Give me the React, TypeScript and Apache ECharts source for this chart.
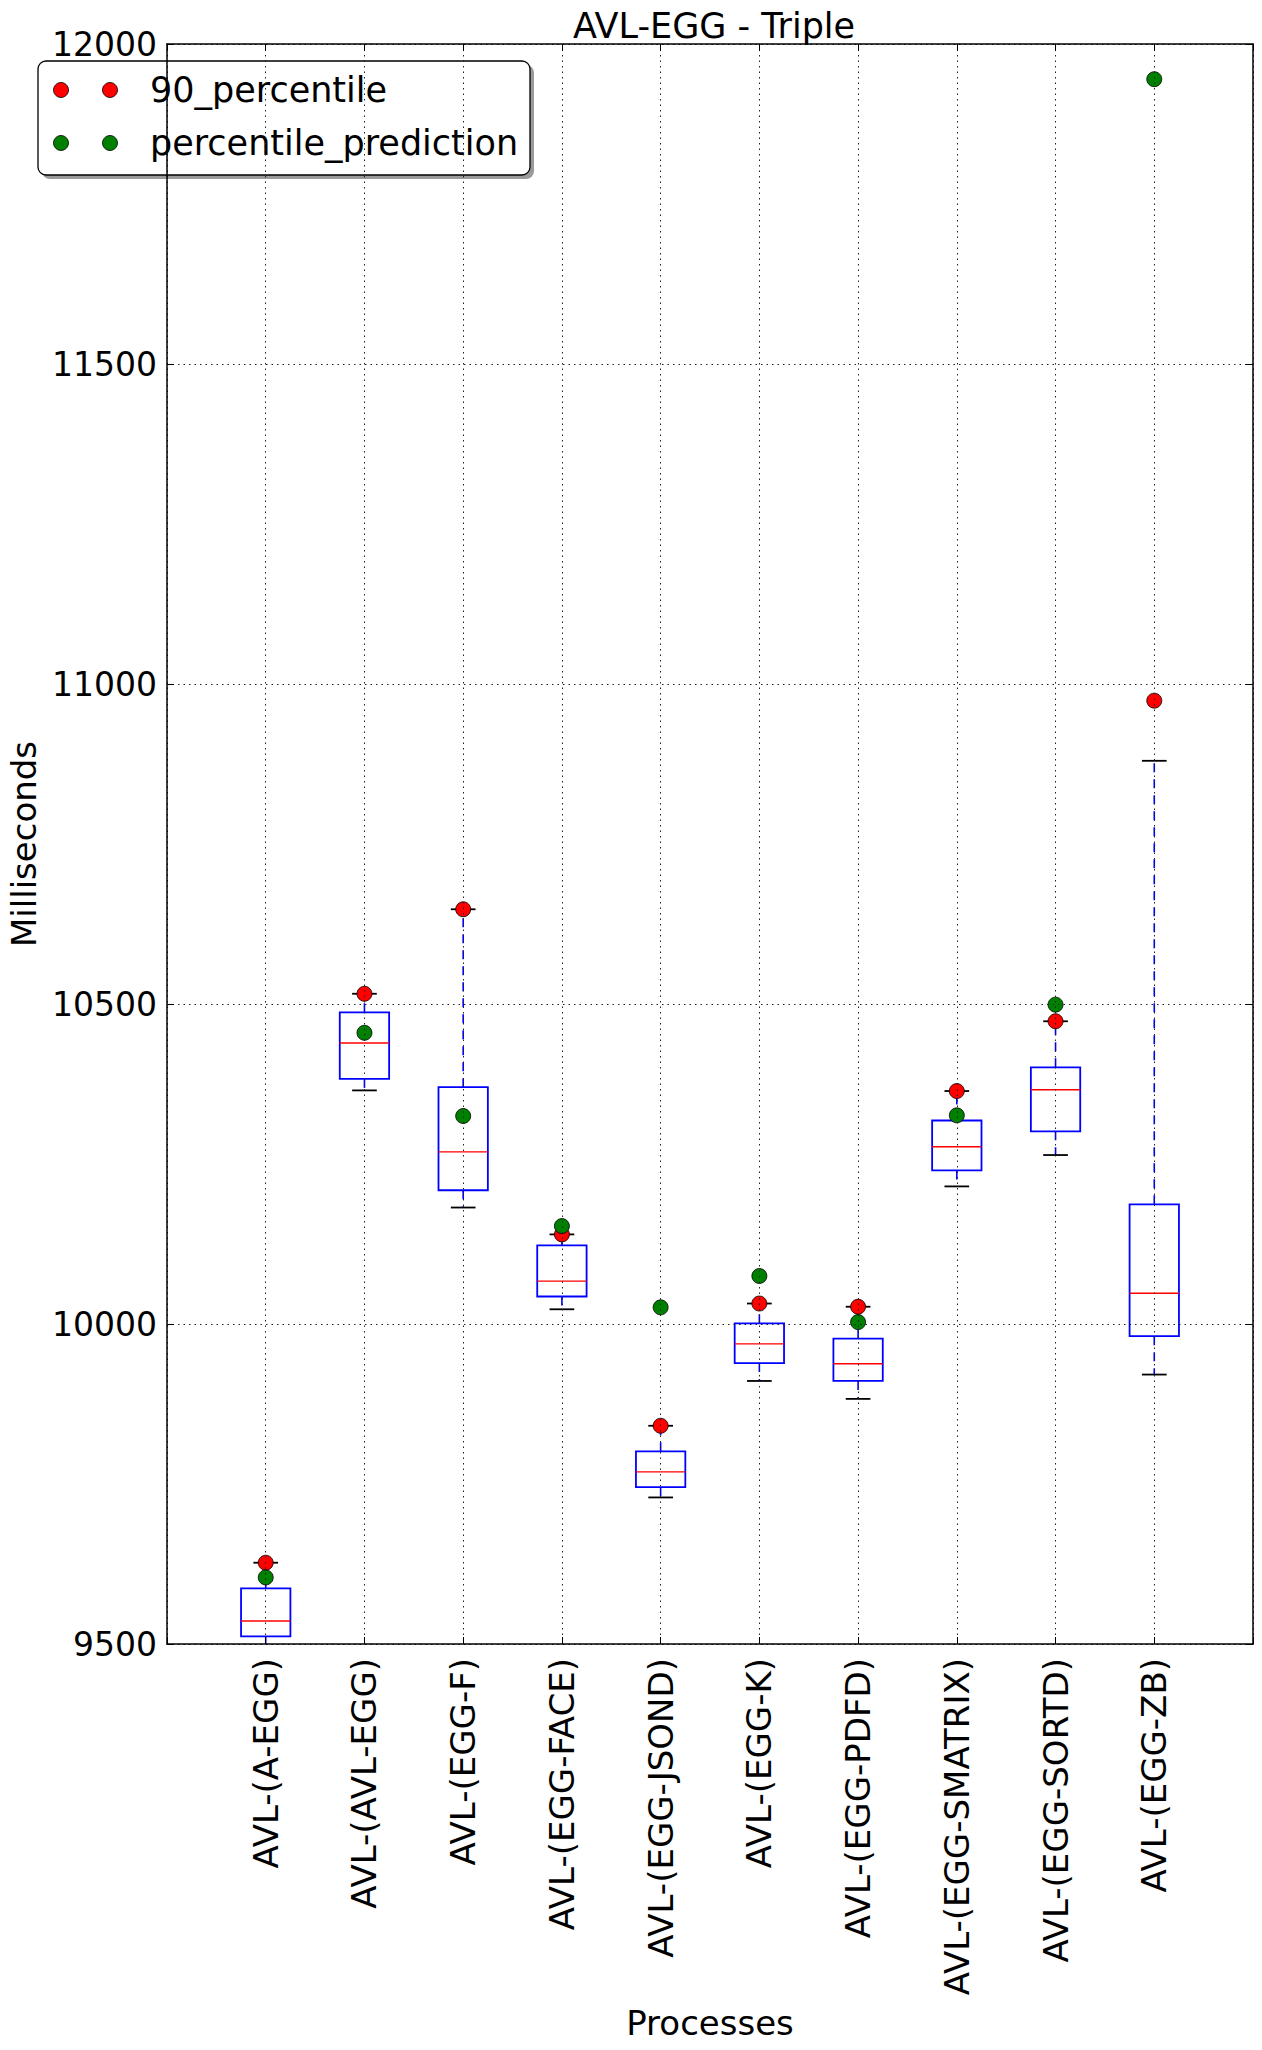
import React, { useEffect, useRef } from "react";
import * as echarts from "echarts";

const FONT = "DejaVu Sans";

const categories = [
  "AVL-(A-EGG)",
  "AVL-(AVL-EGG)",
  "AVL-(EGG-F)",
  "AVL-(EGG-FACE)",
  "AVL-(EGG-JSOND)",
  "AVL-(EGG-K)",
  "AVL-(EGG-PDFD)",
  "AVL-(EGG-SMATRIX)",
  "AVL-(EGG-SORTD)",
  "AVL-(EGG-ZB)",
];

const lowerWhisker = [9495, 10365, 10182, 10023, 9729, 9911, 9883, 10215, 10264, 9921];
const q1 = [9512, 10383, 10209, 10043, 9745, 9939, 9911, 10240, 10301, 9981];
const median = [9536, 10439, 10269, 10067, 9769, 9969, 9938, 10277, 10366, 10048];
const q3 = [9587, 10487, 10370, 10123, 9801, 10001, 9977, 10318, 10401, 10187];
const upperWhisker = [9627, 10516, 10648, 10140, 9841, 10032, 10027, 10364, 10473, 10880];

const percentile90 = [9627, 10516, 10648, 10140, 9841, 10032, 10027, 10364, 10473, 10974];
const percentilePrediction = [9604, 10455, 10325, 10153, 10026, 10075, 10003, 10326, 10499, 11945];

const yTicks = { min: 9500, max: 12000, interval: 500 };

export default function App() {
  const ref = useRef<HTMLDivElement>(null);

  useEffect(() => {
    document.body.style.margin = "0";
    if (!ref.current) return;
    const chart = echarts.init(ref.current, null, { renderer: "svg" });

    const axisCats = ["", ...categories, ""];
    const gridLine = { show: true, lineStyle: { color: "#222", type: [1.5, 4], width: 1 } };

    const boxData = categories.map((_, i) => [
      i + 1,
      lowerWhisker[i],
      q1[i],
      median[i],
      q3[i],
      upperWhisker[i],
    ]);

    const option: any = {
      animation: false,
      backgroundColor: "#ffffff",
      title: {
        text: "AVL-EGG - Triple",
        left: 709,
        top: 3,
        textAlign: "center",
        textStyle: { fontFamily: FONT, fontSize: 35, fontWeight: "normal", color: "#000" },
      },
      grid: { left: 167, top: 44, width: 1086, height: 1600, containLabel: false, outerBoundsMode: "none" },
      xAxis: [
        {
          type: "category",
          data: axisCats,
          boundaryGap: false,
          position: "bottom",
          z: 5,
          axisLine: { lineStyle: { color: "#000", width: 1.5 } },
          axisTick: { inside: true, length: 7, interval: 0, lineStyle: { color: "#000" } },
          axisLabel: {
            rotate: 90,
            interval: 0,
            fontSize: 34,
            color: "#000",
            fontFamily: FONT,
            margin: 14,
          },
          splitLine: { ...gridLine, interval: 0 },
          name: "Processes",
          nameLocation: "middle",
          nameGap: 379,
          nameTextStyle: { fontSize: 34, color: "#000", fontFamily: FONT, verticalAlign: "middle" },
        },
        {
          type: "category",
          data: axisCats,
          boundaryGap: false,
          position: "top",
          z: 5,
          axisLine: { lineStyle: { color: "#000", width: 1.5 } },
          axisTick: { inside: true, length: 7, interval: 0, lineStyle: { color: "#000" } },
          axisLabel: { show: false },
          splitLine: { show: false },
        },
      ],
      yAxis: [
        {
          type: "value",
          min: yTicks.min,
          max: yTicks.max,
          interval: yTicks.interval,
          z: 5,
          axisLine: { show: true, lineStyle: { color: "#000", width: 1.5 } },
          axisTick: { show: true, inside: true, length: 7, lineStyle: { color: "#000" } },
          axisLabel: {
            fontSize: 33,
            color: "#000",
            fontFamily: FONT,
            margin: 10,
            formatter: (v: number) => String(v),
          },
          splitLine: gridLine,
          name: "Milliseconds",
          nameLocation: "middle",
          nameGap: 138,
          nameRotate: 90,
          nameTextStyle: { fontSize: 34, color: "#000", fontFamily: FONT, verticalAlign: "middle" },
        },
        {
          type: "value",
          position: "right",
          min: yTicks.min,
          max: yTicks.max,
          interval: yTicks.interval,
          z: 5,
          axisLine: { show: true, lineStyle: { color: "#000", width: 1.5 } },
          axisTick: { show: true, inside: true, length: 7, lineStyle: { color: "#000" } },
          axisLabel: { show: false },
          splitLine: { show: false },
        },
      ],
      series: [
        {
          type: "custom",
          name: "boxes",
          xAxisIndex: 0,
          yAxisIndex: 0,
          clip: true,
          z: 2,
          encode: { x: 0, y: [1, 2, 3, 4, 5] },
          data: boxData,
          renderItem: (params: any, api: any) => {
            const x = api.value(0);
            const pLow = api.coord([x, api.value(1)]);
            const pQ1 = api.coord([x, api.value(2)]);
            const pMed = api.coord([x, api.value(3)]);
            const pQ3 = api.coord([x, api.value(4)]);
            const pHigh = api.coord([x, api.value(5)]);
            const slot = api.coord([2, yTicks.min])[0] - api.coord([1, yTicks.min])[0];
            const bw = slot * 0.25;
            const cw = slot * 0.125;
            const cx = pLow[0];
            const whisker = { stroke: "#0000ff", lineWidth: 1.6, lineDash: [9, 7] };
            const cap = { stroke: "#000", lineWidth: 1.8 };
            return {
              type: "group",
              children: [
                { type: "line", shape: { x1: cx, y1: pQ3[1], x2: cx, y2: pHigh[1] }, style: whisker },
                { type: "line", shape: { x1: cx, y1: pQ1[1], x2: cx, y2: pLow[1] }, style: whisker },
                { type: "line", shape: { x1: cx - cw, y1: pHigh[1], x2: cx + cw, y2: pHigh[1] }, style: cap },
                { type: "line", shape: { x1: cx - cw, y1: pLow[1], x2: cx + cw, y2: pLow[1] }, style: cap },
                {
                  type: "rect",
                  shape: { x: cx - bw, y: pQ3[1], width: 2 * bw, height: pQ1[1] - pQ3[1] },
                  style: { fill: "none", stroke: "#0000ff", lineWidth: 1.8 },
                },
                {
                  type: "line",
                  shape: { x1: cx - bw, y1: pMed[1], x2: cx + bw, y2: pMed[1] },
                  style: { stroke: "#ff0000", lineWidth: 1.4 },
                },
              ],
            };
          },
        },
        {
          type: "scatter",
          name: "90_percentile",
          xAxisIndex: 0,
          yAxisIndex: 0,
          z: 3,
          symbol: "circle",
          symbolSize: 15,
          itemStyle: { color: "#ff0000", borderColor: "#000", borderWidth: 0.8, opacity: 1 },
          data: percentile90.map((v, i) => [i + 1, v]),
        },
        {
          type: "scatter",
          name: "percentile_prediction",
          xAxisIndex: 0,
          yAxisIndex: 0,
          z: 4,
          symbol: "circle",
          symbolSize: 15,
          itemStyle: { color: "#008000", borderColor: "#000", borderWidth: 0.8, opacity: 1 },
          data: percentilePrediction.map((v, i) => [i + 1, v]),
        },
      ],
      graphic: [
        {
          type: "group",
          z: 100,
          children: [
            { type: "rect", shape: { x: 42, y: 65, width: 492, height: 114, r: 8 }, style: { fill: "#9a9a9a" } },
            {
              type: "rect",
              shape: { x: 38, y: 61, width: 492, height: 114, r: 8 },
              style: { fill: "#fff", stroke: "#000", lineWidth: 1.3 },
            },
            { type: "circle", shape: { cx: 61, cy: 90, r: 7.5 }, style: { fill: "#ff0000", stroke: "#000", lineWidth: 0.8 } },
            { type: "circle", shape: { cx: 110, cy: 90, r: 7.5 }, style: { fill: "#ff0000", stroke: "#000", lineWidth: 0.8 } },
            { type: "circle", shape: { cx: 61, cy: 143, r: 7.5 }, style: { fill: "#008000", stroke: "#000", lineWidth: 0.8 } },
            { type: "circle", shape: { cx: 110, cy: 143, r: 7.5 }, style: { fill: "#008000", stroke: "#000", lineWidth: 0.8 } },
            {
              type: "text",
              style: { text: "90_percentile", x: 150, y: 90, fontSize: 35, fontFamily: FONT, fill: "#000", verticalAlign: "middle" },
            },
            {
              type: "text",
              style: { text: "percentile_prediction", x: 150, y: 143, fontSize: 35, fontFamily: FONT, fill: "#000", verticalAlign: "middle" },
            },
          ],
        },
      ],
    };

    chart.setOption(option);
    return () => chart.dispose();
  }, []);

  return <div ref={ref} style={{ width: 1262, height: 2050 }} />;
}
